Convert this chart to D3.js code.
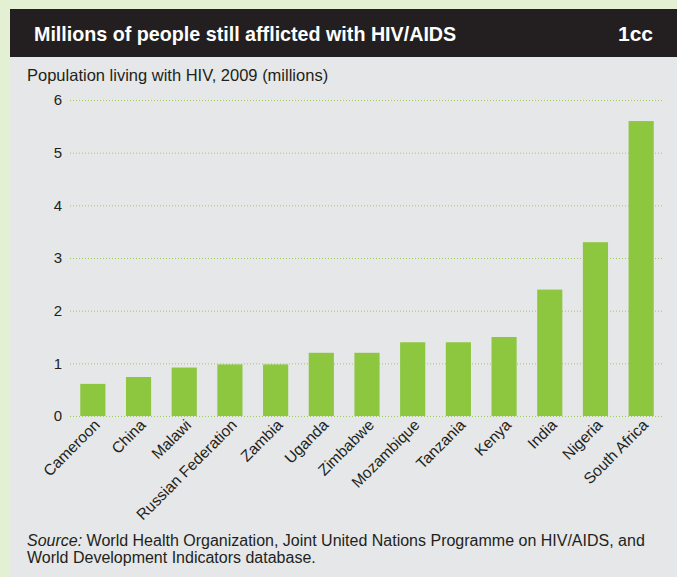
<!DOCTYPE html>
<html>
<head>
<meta charset="utf-8">
<script src="https://cdn.jsdelivr.net/npm/d3@7"></script>
<style>
  body { margin: 0; background: #e4f0d4; }
  svg { display: block; }
</style>
</head>
<body>
<div id="chart"></div>
<script>
// Data
const countries = ["Cameroon", "China", "Malawi", "Russian Federation", "Zambia", "Uganda",
    "Zimbabwe", "Mozambique", "Tanzania", "Kenya", "India", "Nigeria", "South Africa"];
const values = [0.61, 0.74, 0.92, 0.98, 0.98, 1.2, 1.2, 1.4, 1.4, 1.5, 2.4, 3.3, 5.6];
const yTicks = [0, 1, 2, 3, 4, 5, 6];

const W = 677, H = 577;
const margin = { top: 100, right: 13, bottom: 161, left: 70 };
const innerW = W - margin.left - margin.right;
const innerH = H - margin.top - margin.bottom;

const narrow = "'Liberation Sans Narrow', 'Arial Narrow', sans-serif";

const svg = d3.select("#chart")
    .append("svg")
    .attr("width", W)
    .attr("height", H);

// Panel and header
svg.append("rect")
    .attr("x", 10).attr("y", 9)
    .attr("width", W - 10).attr("height", H - 9)
    .attr("fill", "#e6e7e8");

svg.append("rect")
    .attr("x", 10).attr("y", 9)
    .attr("width", W - 10).attr("height", 48)
    .attr("fill", "#231f20");

svg.append("text")
    .attr("x", 34).attr("y", 41)
    .style("font-family", narrow)
    .style("font-weight", "bold")
    .style("font-size", "19.7px")
    .style("fill", "#fff")
    .text("Millions of people still afflicted with HIV/AIDS");

svg.append("text")
    .attr("x", 653).attr("y", 41)
    .attr("text-anchor", "end")
    .style("font-family", narrow)
    .style("font-weight", "bold")
    .style("font-size", "21px")
    .style("fill", "#fff")
    .text("1cc");

svg.append("text")
    .attr("x", 27).attr("y", 81)
    .style("font-family", narrow)
    .style("font-size", "16.5px")
    .style("fill", "#231f20")
    .text("Population living with HIV, 2009 (millions)");

const g = svg.append("g")
    .attr("transform", `translate(${margin.left},${margin.top})`);

const x = d3.scaleBand()
    .domain(countries)
    .range([0, innerW])
    .paddingInner(0.45)
    .paddingOuter(0.225);

const y = d3.scaleLinear()
    .domain([0, 6])
    .range([innerH, 0]);

// Dotted gridlines
g.selectAll(".grid")
    .data(yTicks)
    .enter()
    .append("line")
    .attr("class", "grid")
    .attr("x1", 0)
    .attr("x2", innerW)
    .attr("y1", d => y(d) + 0.5)
    .attr("y2", d => y(d) + 0.5)
    .style("stroke", "#9fcc5a")
    .style("stroke-width", 1)
    .style("stroke-dasharray", "1,2");

// Y tick labels
g.selectAll(".ytick")
    .data(yTicks)
    .enter()
    .append("text")
    .attr("class", "ytick")
    .attr("x", -8)
    .attr("y", d => y(d))
    .attr("dy", "0.35em")
    .attr("text-anchor", "end")
    .style("font-family", "'Liberation Sans', Arial, sans-serif")
    .style("font-size", "15px")
    .style("fill", "#231f20")
    .text(d => d);

// Bars
g.selectAll(".bar")
    .data(values)
    .enter()
    .append("rect")
    .attr("class", "bar")
    .attr("x", (d, i) => x(countries[i]))
    .attr("y", d => y(d))
    .attr("width", x.bandwidth())
    .attr("height", d => innerH - y(d))
    .style("fill", "#8dc63f");

// Rotated category labels
g.selectAll(".xlabel")
    .data(countries)
    .enter()
    .append("text")
    .attr("class", "xlabel")
    .attr("transform", d => `translate(${x(d) + x.bandwidth() / 2 + 8},${innerH + 10}) rotate(-45)`)
    .attr("text-anchor", "end")
    .style("font-family", narrow)
    .style("font-size", "15.5px")
    .style("fill", "#231f20")
    .text(d => d);

// Source note
const src = svg.append("text")
    .attr("x", 27).attr("y", 546)
    .style("font-family", narrow)
    .style("font-size", "16px")
    .style("fill", "#231f20");
src.append("tspan").style("font-style", "italic").text("Source:");
src.append("tspan").text(" World Health Organization, Joint United Nations Programme on HIV/AIDS, and");

svg.append("text")
    .attr("x", 27).attr("y", 563)
    .style("font-family", narrow)
    .style("font-size", "16px")
    .style("fill", "#231f20")
    .text("World Development Indicators database.");
</script>
</body>
</html>
